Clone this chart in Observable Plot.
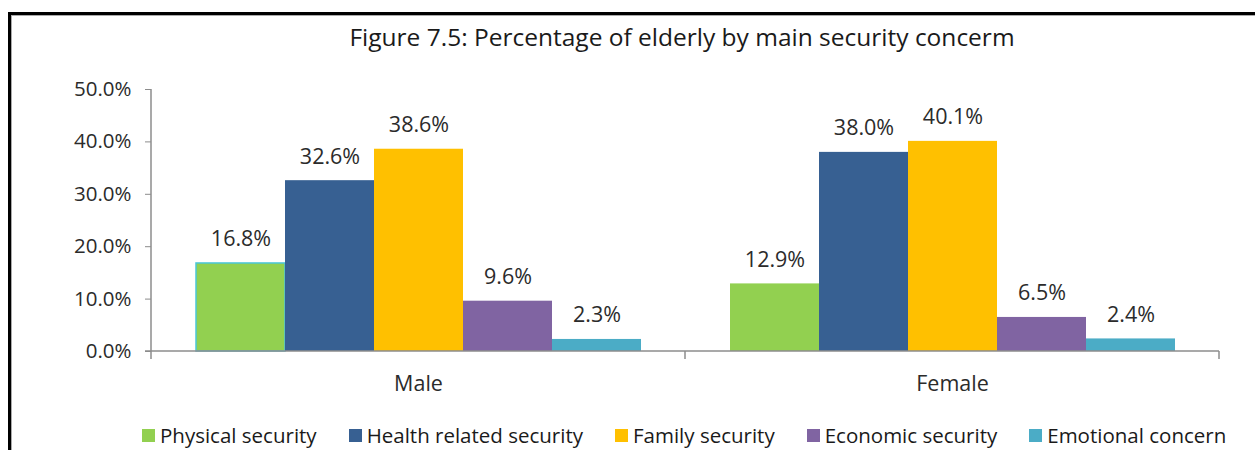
<!DOCTYPE html>
<html>
<head>
<meta charset="utf-8">
<script src="https://cdn.jsdelivr.net/npm/d3@7"></script>
<script src="https://cdn.jsdelivr.net/npm/@observablehq/plot@0.6"></script>
<style>
  html, body { margin: 0; padding: 0; background: #fff; }
  body { width: 1255px; height: 450px; overflow: hidden; position: relative; font-family: "Open Sans", Lato, sans-serif; }
  #border { position: absolute; left: 8px; top: 12px; width: 1400px; height: 600px; border: 3px solid #000; box-shadow: inset 1px 1px 0 #aaa; box-sizing: border-box; }
  #title { position: absolute; left: 0; top: 20px; width: 1364px; text-align: center; font-size: 24.5px; color: #1a1a1a; white-space: nowrap; }
  #chart { position: absolute; left: 0; top: 0; }
  #legend { position: absolute; left: 142px; top: 421px; display: flex; align-items: center; font-size: 20.5px; color: #1a1a1a; white-space: nowrap; }
  .item { display: flex; align-items: center; margin-right: 32px; }
  .sw { width: 13px; height: 13px; margin-right: 5px; }
</style>
</head>
<body>
<div id="border"></div>
<div id="title">Figure 7.5: Percentage of elderly by main security concerm</div>
<div id="chart"></div>
<div id="legend"></div>
<script>
const sexes = ["Male", "Female"];
const concerns = ["Physical security", "Health related security", "Family security", "Economic security", "Emotional concern"];
const maleValues = [16.8, 32.6, 38.6, 9.6, 2.3];
const femaleValues = [12.9, 38.0, 40.1, 6.5, 2.4];
const colors = ["#92d050", "#376092", "#ffc000", "#8064a2", "#4bacc6"];
const yTicks = [0, 10, 20, 30, 40, 50];

const seriesBySex = {Male: maleValues, Female: femaleValues};
const rows = sexes.flatMap(sex => concerns.map((concern, i) => ({sex, concern, value: seriesBySex[sex][i]})));

const axisColor = "#8c8c8c";
const textColor = "#2b2b2b";

const chart = Plot.plot({
  width: 1255,
  height: 400,
  marginLeft: 151,
  marginRight: 36,
  marginTop: 89,
  marginBottom: 49,
  style: {fontFamily: "'Open Sans', Lato, sans-serif", background: "transparent"},
  fx: {domain: sexes, padding: 0, label: null},
  x: {domain: concerns, paddingInner: 0, paddingOuter: 0.5, axis: null},
  y: {domain: [0, 50], axis: null},
  color: {domain: concerns, range: colors},
  marks: [
    Plot.axisY({ticks: yTicks, tickFormat: d => d.toFixed(1) + "%", tickSize: 6, tickPadding: 14,
      fontSize: 20.5, stroke: axisColor, fill: textColor, label: null}),
    Plot.axisFx({anchor: "bottom", tickSize: 0, tickPadding: 24, fontSize: 21.5, fill: textColor, label: null}),
    Plot.barY(rows, {fx: "sex", x: "concern", y: "value", fill: "concern",
      stroke: d => (d.sex === "Male" && d.concern === "Physical security") ? "#4bc6d8" : "none", strokeWidth: 1.5}),
    Plot.text(rows, {fx: "sex", x: "concern", y: "value", text: d => d.value.toFixed(1) + "%",
      dy: -24, fontSize: 21.5, fill: textColor}),
    Plot.frame({facet: "super", render: (index, scales, values, dims) => {
      const {y, fx} = scales;
      const g = d3.create("svg:g").attr("stroke", axisColor).attr("stroke-width", 1.5).attr("fill", "none");
      const y0 = y(0), yTop = y(d3.max(yTicks));
      const left = dims.marginLeft, right = dims.width - dims.marginRight;
      g.append("line").attr("x1", left).attr("x2", left).attr("y1", yTop).attr("y2", y0 + 8);
      g.append("line").attr("x1", left - 6).attr("x2", right).attr("y1", y0).attr("y2", y0);
      for (const s of sexes) {
        const xe = fx(s) + fx.bandwidth();
        g.append("line").attr("x1", xe).attr("x2", xe).attr("y1", y0).attr("y2", y0 + 8);
      }
      return g.node();
    }})
  ]
});
document.getElementById("chart").append(chart);

const legend = document.getElementById("legend");
concerns.forEach((c, i) => {
  const item = document.createElement("div");
  item.className = "item";
  const sw = document.createElement("div");
  sw.className = "sw";
  sw.style.background = colors[i];
  const label = document.createElement("span");
  label.textContent = c;
  item.append(sw, label);
  legend.append(item);
});
</script>
</body>
</html>
